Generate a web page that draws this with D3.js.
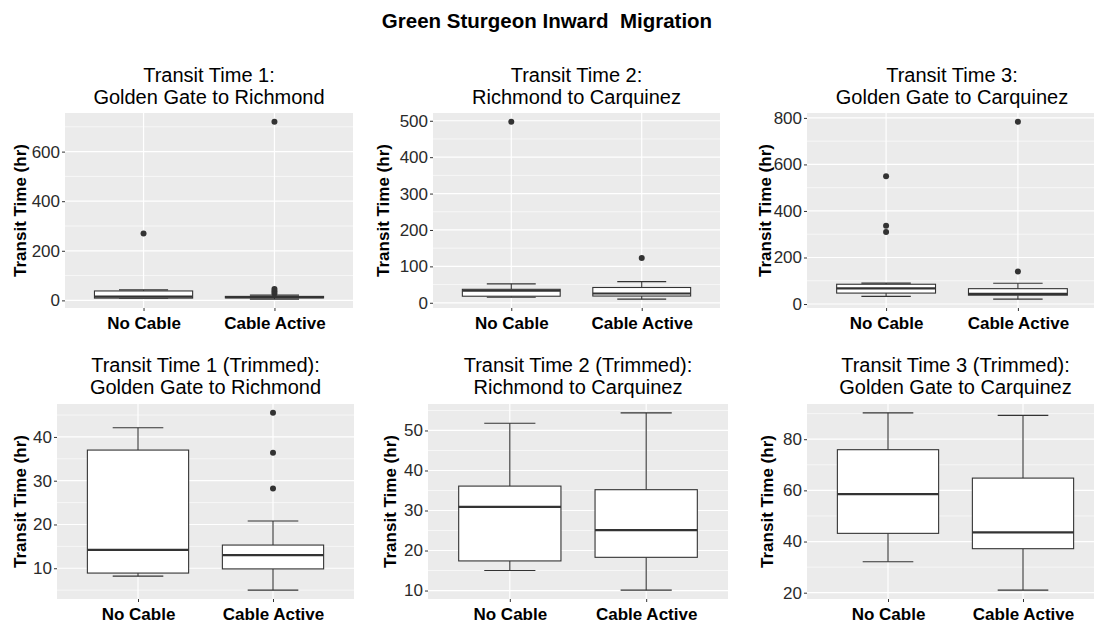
<!DOCTYPE html>
<html><head><meta charset="utf-8">
<script src="https://cdn.jsdelivr.net/npm/d3@7"></script>
<style>body{margin:0;background:#fff} svg{display:block}</style>
</head><body>
<svg id="chart" width="1094" height="623"></svg>
<script>
// ---------------- DATA ----------------
const mainTitle = "Green Sturgeon Inward\u00a0 Migration";
const categories = ["No Cable", "Cable Active"];
const yAxisTitle = "Transit Time (hr)";
const panelTitles = [
  ["Transit Time 1:", "Golden Gate to Richmond"],
  ["Transit Time 2:", "Richmond to Carquinez"],
  ["Transit Time 3:", "Golden Gate to Carquinez"],
  ["Transit Time 1 (Trimmed):", "Golden Gate to Richmond"],
  ["Transit Time 2 (Trimmed):", "Richmond to Carquinez"],
  ["Transit Time 3 (Trimmed):", "Golden Gate to Carquinez"]
];
// [lower whisker, Q1, median, Q3, upper whisker] for [No Cable, Cable Active]
const tt1Stats = [[8.3, 9.2, 15, 38, 42.2], [5, 10, 13.2, 16, 21]];
const tt1Outliers = [[270], [28.2, 36.4, 45.5, 720]];
const tt2Stats = [[15, 18, 33, 37, 52], [10, 18.5, 25.5, 42, 58]];
const tt2Outliers = [[497], [123]];
const tt3Stats = [[33, 47, 67, 85, 90], [21, 38, 44, 66, 89]];
const tt3Outliers = [[310, 336, 549], [140, 783]];
const tt1TrimStats = [[8.2, 8.9, 14.2, 37.0, 42.1], [5.0, 9.85, 13.0, 15.3, 20.8]];
const tt1TrimOutliers = [[], [28.2, 36.4, 45.5]];
const tt2TrimStats = [[15.0, 17.4, 30.9, 36.1, 51.8], [10.1, 18.3, 25.1, 35.2, 54.4]];
const tt2TrimOutliers = [[], []];
const tt3TrimStats = [[32.1, 43.2, 58.5, 75.9, 90.3], [21.0, 37.2, 43.6, 64.8, 89.3]];
const tt3TrimOutliers = [[], []];
const yTicks = [
  [0, 200, 400, 600],
  [0, 100, 200, 300, 400, 500],
  [0, 200, 400, 600, 800],
  [10, 20, 30, 40],
  [10, 20, 30, 40, 50],
  [20, 40, 60, 80]
];
const statsList = [tt1Stats, tt2Stats, tt3Stats, tt1TrimStats, tt2TrimStats, tt3TrimStats];
const outlierList = [tt1Outliers, tt2Outliers, tt3Outliers, tt1TrimOutliers, tt2TrimOutliers, tt3TrimOutliers];

// ---------------- LAYOUT ----------------
const layout = [
  {x0: 65,  x1: 353,  y0: 113, y1: 308, tY: 81.5,  yTitleX: 26,  xLabY: 329},
  {x0: 433, x1: 720,  y0: 113, y1: 308, tY: 81.5,  yTitleX: 389, xLabY: 329},
  {x0: 807, x1: 1097, y0: 113, y1: 308, tY: 81.5,  yTitleX: 771, xLabY: 329},
  {x0: 57,  x1: 354,  y0: 404, y1: 599, tY: 371.5, yTitleX: 26,  xLabY: 620},
  {x0: 428, x1: 728,  y0: 404, y1: 599, tY: 371.5, yTitleX: 396, xLabY: 620},
  {x0: 807, x1: 1104, y0: 404, y1: 599, tY: 371.5, yTitleX: 773, xLabY: 620}
];
const FONT = "'Liberation Sans', Arial, sans-serif";
const INK = "#333333";

const svg = d3.select("#chart");
svg.append("rect").attr("width", 1094).attr("height", 623).attr("fill", "#fff");

svg.append("text").attr("x", 547).attr("y", 28).attr("text-anchor", "middle")
  .attr("font-family", FONT).attr("font-weight", "bold").attr("font-size", 20.5)
  .attr("fill", "#000").text(mainTitle);

const defs = svg.append("defs");

layout.forEach((L, i) => {
  const stats = statsList[i], outs = outlierList[i];
  const allVals = stats.flat().concat(outs.flat());
  const lo = d3.min(allVals), hi = d3.max(allVals), pad = (hi - lo) * 0.05;
  const y = d3.scaleLinear().domain([lo - pad, hi + pad]).range([L.y1, L.y0]);
  const x = d3.scalePoint().domain(categories).range([L.x0, L.x1]).padding(0.6);
  const bw = x.step() * 0.75;

  defs.append("clipPath").attr("id", "clip" + i).append("rect")
    .attr("x", L.x0).attr("y", L.y0).attr("width", L.x1 - L.x0).attr("height", L.y1 - L.y0);

  const g = svg.append("g");
  const pg = g.append("g").attr("clip-path", `url(#clip${i})`);
  pg.append("rect").attr("x", L.x0).attr("y", L.y0).attr("width", L.x1 - L.x0)
    .attr("height", L.y1 - L.y0).attr("fill", "#EBEBEB");

  // minor grid
  const ticks = yTicks[i];
  const step = ticks[1] - ticks[0];
  const [dmin, dmax] = y.domain();
  const minors = [];
  for (let v = ticks[0] - step / 2 - step * Math.ceil((ticks[0] - dmin) / step); v <= dmax; v += step) {
    if (v >= dmin) minors.push(v);
  }
  pg.selectAll(".minor").data(minors).join("line")
    .attr("x1", L.x0).attr("x2", L.x1).attr("y1", d => y(d)).attr("y2", d => y(d))
    .attr("stroke", "#fff").attr("stroke-width", 0.6);
  pg.selectAll(".major").data(ticks).join("line")
    .attr("x1", L.x0).attr("x2", L.x1).attr("y1", d => y(d)).attr("y2", d => y(d))
    .attr("stroke", "#fff").attr("stroke-width", 1.2);
  pg.selectAll(".vmajor").data(categories).join("line")
    .attr("x1", d => x(d)).attr("x2", d => x(d)).attr("y1", L.y0).attr("y2", L.y1)
    .attr("stroke", "#fff").attr("stroke-width", 1.2);

  // boxes
  categories.forEach((c, k) => {
    const [wl, q1, md, q3, wh] = stats[k];
    const cx = x(c);
    const bg = pg.append("g");
    bg.append("line").attr("x1", cx).attr("x2", cx).attr("y1", y(wh)).attr("y2", y(q3))
      .attr("stroke", INK).attr("stroke-width", 1.1);
    bg.append("line").attr("x1", cx).attr("x2", cx).attr("y1", y(q1)).attr("y2", y(wl))
      .attr("stroke", INK).attr("stroke-width", 1.1);
    [wl, wh].forEach(v => bg.append("line").attr("x1", cx - bw / 4).attr("x2", cx + bw / 4)
      .attr("y1", y(v)).attr("y2", y(v)).attr("stroke", INK).attr("stroke-width", 1.1));
    bg.append("rect").attr("x", cx - bw / 2).attr("width", bw)
      .attr("y", y(q3)).attr("height", Math.max(0.5, y(q1) - y(q3)))
      .attr("fill", "#fff").attr("stroke", INK).attr("stroke-width", 1.1);
    bg.append("line").attr("x1", cx - bw / 2).attr("x2", cx + bw / 2)
      .attr("y1", y(md)).attr("y2", y(md)).attr("stroke", INK).attr("stroke-width", 2.2);
    bg.selectAll("circle").data(outs[k]).join("circle")
      .attr("cx", cx).attr("cy", d => y(d)).attr("r", 3).attr("fill", INK);
  });

  // axes
  const ya = g.append("g").attr("transform", `translate(${L.x0},0)`)
    .call(d3.axisLeft(y).tickValues(ticks).tickSize(3).tickPadding(2).tickFormat(d3.format("d")));
  ya.select(".domain").remove();
  ya.selectAll("line").attr("stroke", INK);
  ya.selectAll("text").attr("font-family", FONT).attr("font-size", 17).attr("fill", "#2a2a2a");

  const xa = g.append("g").attr("transform", `translate(0,${L.y1})`)
    .call(d3.axisBottom(x).tickSize(3).tickPadding(4));
  xa.select(".domain").remove();
  xa.selectAll("line").attr("stroke", INK);
  xa.selectAll("text").attr("font-family", FONT).attr("font-size", 17).attr("font-weight", "bold")
    .attr("fill", "#000").attr("y", L.xLabY - L.y1).attr("dy", 0);

  // y title
  g.append("text").attr("transform", `translate(${L.yTitleX},${(L.y0 + L.y1) / 2}) rotate(-90)`)
    .attr("text-anchor", "middle").attr("font-family", FONT).attr("font-weight", "bold")
    .attr("font-size", 17).attr("fill", "#000").text(yAxisTitle);

  // panel title
  const cxT = (L.x0 + L.x1) / 2;
  panelTitles[i].forEach((t, j) => {
    g.append("text").attr("x", cxT).attr("y", L.tY + j * 22).attr("text-anchor", "middle")
      .attr("font-family", FONT).attr("font-size", 20).attr("fill", "#000").text(t);
  });
});
</script>
</body></html>
